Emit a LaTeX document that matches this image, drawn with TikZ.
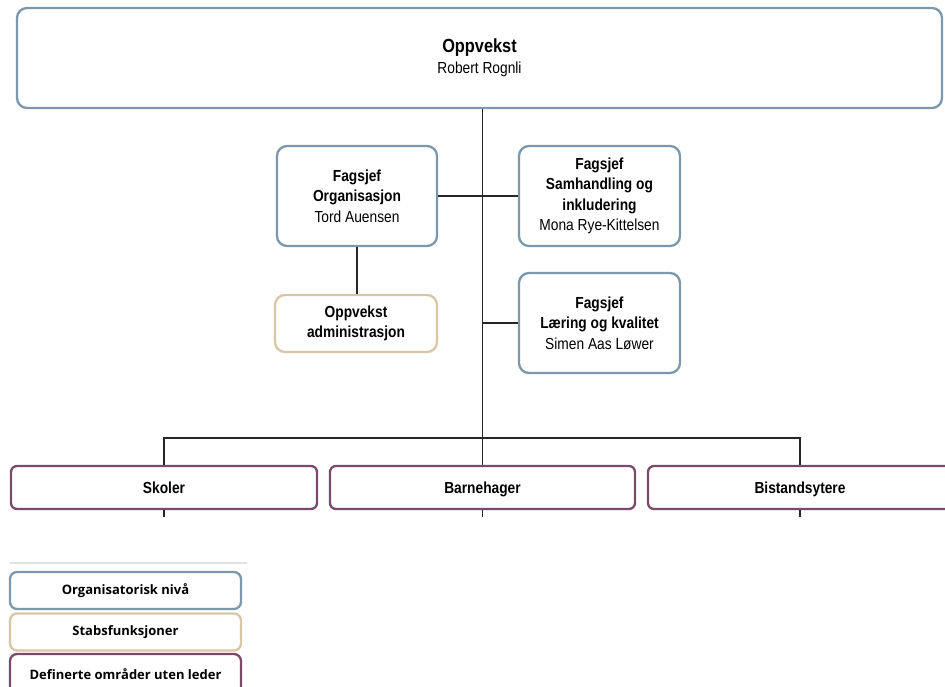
\documentclass[tikz,border=0pt]{standalone}
\usepackage{fontspec}
\setmainfont{Liberation Sans}[FakeStretch=0.86]
\newfontfamily\legfont{Open Sans}
\definecolor{orgblue}{HTML}{7B98AD}
\definecolor{stabtan}{HTML}{D8C7A4}
\definecolor{defpurple}{HTML}{7C4A69}
\definecolor{sepgray}{HTML}{E2E2E2}
\tikzset{
  box/.style={draw, line width=2.3pt, rounded corners=10pt, fill=white, align=center, inner sep=0pt},
  orgbox/.style={box, draw=orgblue},
  stabbox/.style={box, draw=stabtan},
  defbox/.style={box, draw=defpurple, rounded corners=6pt, text height=12pt, text depth=0pt},
  conn/.style={draw=black!85, line width=1.2pt},
  fsj/.style={font=\fontsize{16}{20.5}\selectfont},
  legbox/.style={box, rounded corners=7pt, minimum width=231pt, font=\legfont\bfseries\fontsize{13}{15}\selectfont}
}
\begin{document}
\begin{tikzpicture}[x=1pt,y=-1pt]
\useasboundingbox (0,0) rectangle (945,687);
\clip (0,0) rectangle (945,687);
% top
\node[orgbox, minimum width=925pt, minimum height=100pt] (top) at (479.5,58)
  {{\fontsize{19}{22}\selectfont\bfseries Oppvekst}\\[5pt]{\fontsize{16}{16}\selectfont Robert Rognli}};
% second level
\node[orgbox, fsj, minimum width=160pt, minimum height=100pt] (org) at (357,196)
  {\textbf{Fagsjef}\\\textbf{Organisasjon}\\Tord Auensen};
\node[orgbox, fsj, minimum width=161pt, minimum height=100pt] (sam) at (599.5,196)
  {\textbf{Fagsjef}\\\textbf{Samhandling og}\\\textbf{inkludering}\\Mona Rye-Kittelsen\rule[-4pt]{0pt}{1pt}};
\node[stabbox, fsj, minimum width=162pt, minimum height=57pt] (adm) at (356,323.5)
  {\textbf{Oppvekst}\\\textbf{administrasjon}};
\node[orgbox, fsj, minimum width=161pt, minimum height=100pt] (laer) at (599.5,323)
  {\textbf{Fagsjef}\\\textbf{Læring og kvalitet}\\Simen Aas Løwer};
% bottom level
\node[defbox, fsj, minimum width=306pt, minimum height=43pt] (sk) at (164,487.5) {\textbf{Skoler}};
\node[defbox, fsj, minimum width=305pt, minimum height=43pt] (bh) at (482.5,487.5) {\textbf{Barnehager}};
\node[defbox, fsj, minimum width=304pt, minimum height=43pt] (bi) at (800,487.5) {\textbf{Bistandsytere}};
% connectors
\coordinate (bus) at (482.5,438);
\draw[conn] (top.south -| bh.north) -- (bh.north);
\draw[conn] (sk.north) |- (bus) -| (bi.north);
\draw[conn] (org.east) -- (sam.west);
\draw[conn] (laer.west) -- (laer.west -| bh.north);
\draw[conn] (org.south) -- (org.south |- adm.north);
\draw[conn] (sk.south) -- ++(0,7);
\draw[conn] (bh.south) -- ++(0,7);
\draw[conn] (bi.south) -- ++(0,7);
% legend
\coordinate (sepl) at (10,563);
\coordinate (sepr) at (247,563);
\draw[sepgray, line width=2pt] (sepl) -- (sepr);
\node[legbox, draw=orgblue, minimum height=37pt] (l1) at (125.5,590.5) {Organisatorisk nivå};
\node[legbox, draw=stabtan, minimum height=37pt] (l2) at (125.5,632) {Stabsfunksjoner};
\node[legbox, draw=defpurple, minimum height=40pt] (l3) at (125.5,674) {Definerte områder uten leder};
\end{tikzpicture}
\end{document}
